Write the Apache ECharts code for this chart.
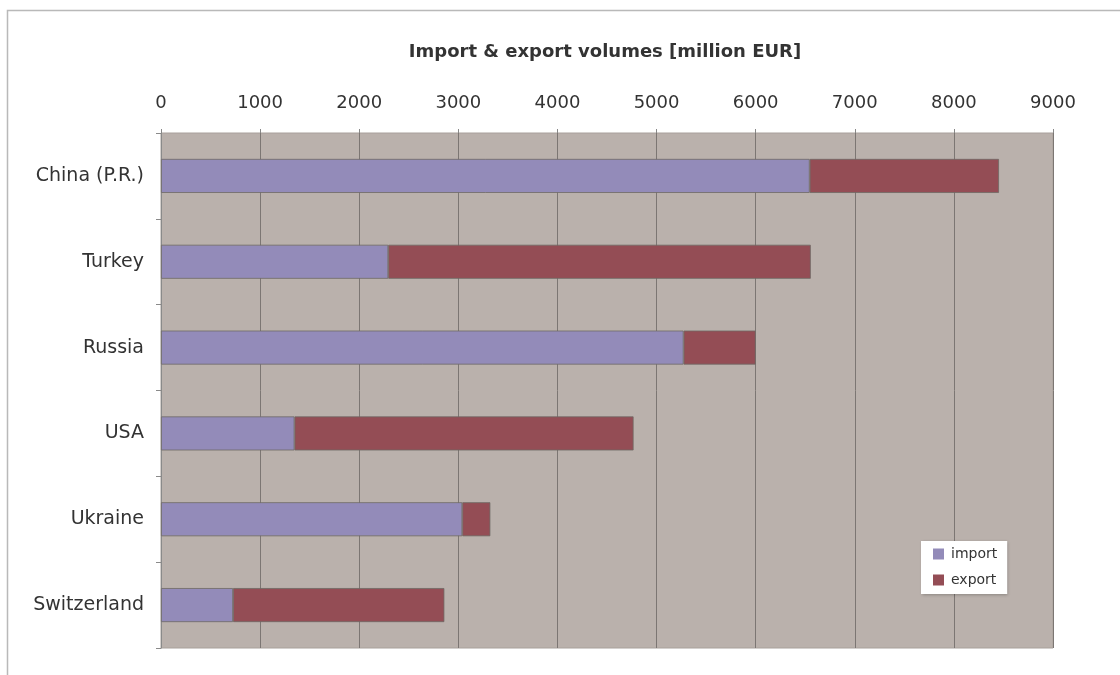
<!DOCTYPE html>
<html>
<head>
<meta charset="utf-8">
<script src="https://cdn.jsdelivr.net/npm/echarts@6/dist/echarts.min.js"></script>
<style>
  html, body { margin: 0; padding: 0; background: #fff; }
  #chart { width: 1120px; height: 675px; }
</style>
</head>
<body>
<div id="chart"></div>
<script>
const countries = ['China (P.R.)', 'Turkey', 'Russia', 'USA', 'Ukraine', 'Switzerland'];
const importVals = [6545, 2293, 5273, 1347, 3040, 727];
const exportVals = [1910, 4263, 727, 3421, 283, 2132];
const xTicks = [0, 9000, 1000]; // min, max, step

const myChart = echarts.init(document.getElementById('chart'));

const barBorder = { borderColor: '#6f6964', borderWidth: 0.8 };

const option = {
    animation: false,
    textStyle: { fontFamily: 'DejaVu Sans, sans-serif' },
    graphic: [{
        type: 'rect',
        shape: { x: 7.5, y: 10.5, width: 1200, height: 700 },
        style: { fill: 'none', stroke: '#b9b9b9', lineWidth: 1.5 },
        z: -1
    }],
    title: {
        text: 'Import & export volumes [million EUR]',
        left: 600,
        top: 38,
        textAlign: 'center',
        textStyle: { fontSize: 18, fontWeight: 'bold', color: '#333' }
    },
    legend: {
        orient: 'vertical',
        left: 921,
        top: 541,
        backgroundColor: '#fff',
        padding: [6, 10, 7, 12],
        itemWidth: 11,
        itemHeight: 11,
        itemGap: 12,
        icon: 'rect',
        itemStyle: { borderWidth: 0 },
        shadowColor: 'rgba(0,0,0,0.25)',
        shadowBlur: 3,
        shadowOffsetX: 1,
        shadowOffsetY: 1,
        textStyle: { fontSize: 14, color: '#333', padding: [0, 0, 0, 2] },
        data: ['import', 'export']
    },
    grid: {
        left: 161,
        top: 133,
        right: 67,
        bottom: 27,
        show: true,
        backgroundColor: '#bab1ac',
        borderColor: '#a8a09b',
        borderWidth: 1
    },
    xAxis: {
        type: 'value',
        position: 'top',
        min: xTicks[0],
        max: xTicks[1],
        interval: xTicks[2],
        axisLine: { show: false },
        axisTick: { show: true, length: 4, lineStyle: { color: '#888' } },
        axisLabel: { fontSize: 18, color: '#333', margin: 21, formatter: v => String(v) },
        splitLine: { show: true, lineStyle: { color: '#7c7673', width: 1 } }
    },
    yAxis: {
        type: 'category',
        inverse: true,
        data: countries,
        axisLine: { show: true, lineStyle: { color: '#8a8a8a' } },
        axisTick: { show: true, length: 5, lineStyle: { color: '#8a8a8a' } },
        axisLabel: { fontSize: 19, color: '#333', margin: 17 }
    },
    series: [
        {
            name: 'import',
            type: 'bar',
            stack: 'total',
            barWidth: 34,
            data: importVals,
            itemStyle: Object.assign({ color: '#938bb9' }, barBorder)
        },
        {
            name: 'export',
            type: 'bar',
            stack: 'total',
            barWidth: 34,
            data: exportVals,
            itemStyle: Object.assign({ color: '#944d55' }, barBorder)
        }
    ]
};

myChart.setOption(option);
</script>
</body>
</html>
